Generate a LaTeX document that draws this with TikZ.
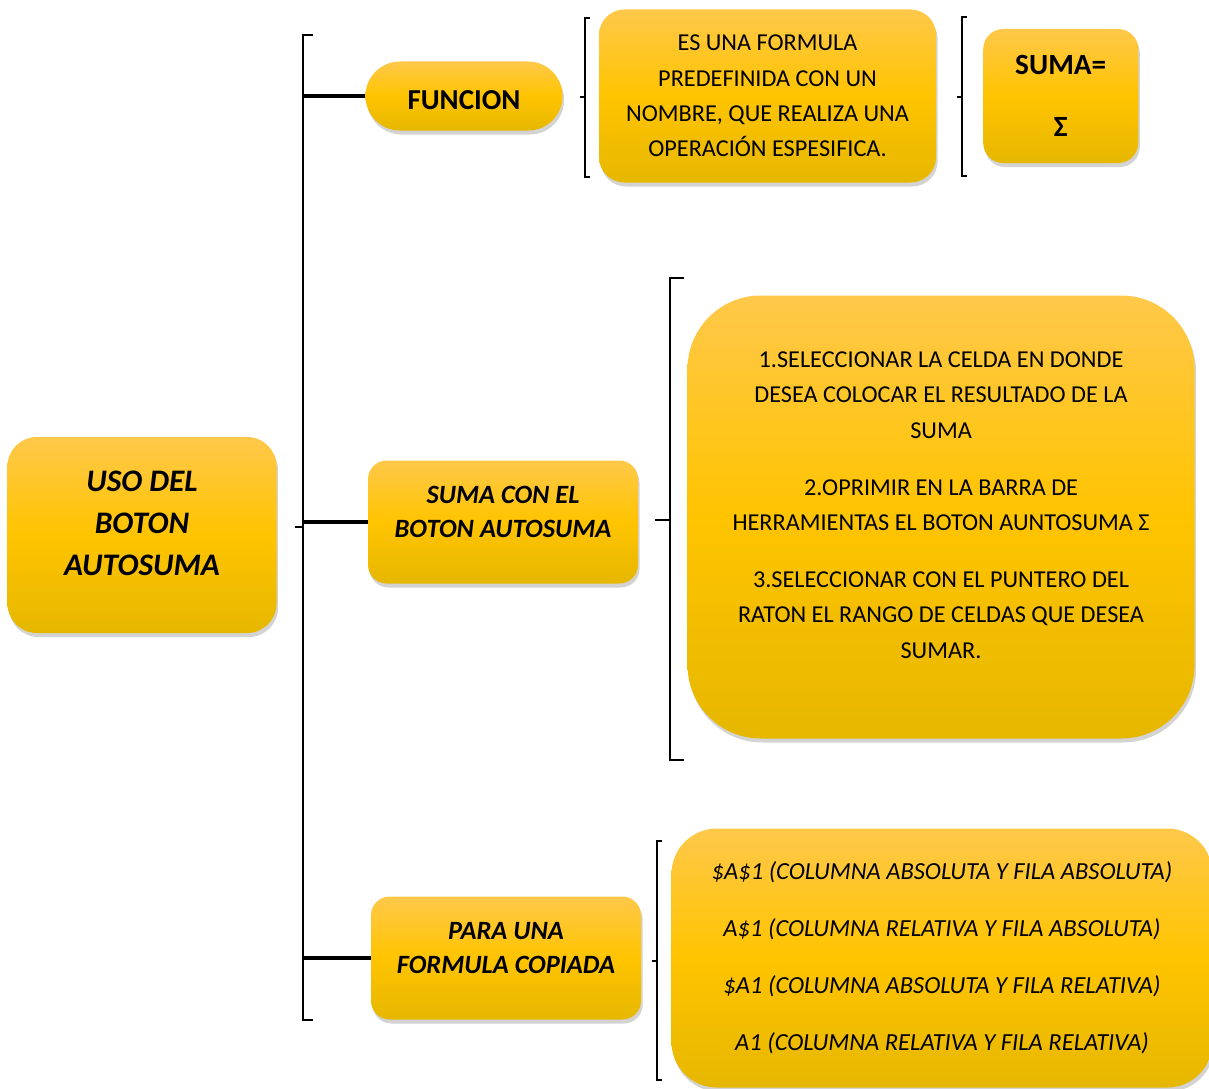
\documentclass[tikz,border=0pt]{standalone}
\usepackage{fontspec}
\setmainfont{Carlito}
\usetikzlibrary{positioning}
\usetikzlibrary{shadows}
\definecolor{goldtop}{HTML}{FFC84A}
\definecolor{goldmid}{HTML}{FFC400}
\definecolor{goldbot}{HTML}{E6B700}

\begin{document}
\begin{tikzpicture}[
    x=0.75pt, y=-0.75pt,
    box/.style={
      align=center,
      inner sep=0pt,
      top color=goldtop,
      bottom color=goldbot,
      middle color=goldmid,
      drop shadow={shadow xshift=1.2pt, shadow yshift=-3pt, opacity=0.35},
    },
    topic/.style={
      box,
      text depth=17pt,
      font=\fontsize{23.5}{31.5}\selectfont\bfseries\itshape,
    },
    branch/.style={
      box,
      minimum width=202.5pt,
      minimum height=92.25pt,
      rounded corners=14pt,
      text depth=15pt,
      font=\fontsize{19.8}{26}\selectfont\bfseries\itshape,
    },
    detail/.style={
      box,
      font=\fontsize{18.2}{26.6}\selectfont,
    },
    brace/.style={
      line width=1.5pt,
    },
    link/.style={
      line width=2.6pt,
    },
    ]
    \useasboundingbox (0,0) rectangle (1209,1088);

    \node[topic, minimum width=201.75pt, minimum height=147pt,
      rounded corners=22pt] (root) at (142,535) {
      USO DEL \\ BOTON \\ AUTOSUMA
    };

    \node[box, minimum width=147.75pt, minimum height=51.75pt,
      rounded corners=25.8pt, text height=20pt,
      font=\fontsize{21.7}{26}\selectfont\bfseries] (funcion) at (464,96) {FUNCION};
    \node[branch] (sumacon) at (503,522) {
      SUMA CON EL \\ BOTON AUTOSUMA
    };
    \node[branch] (copiada) at (506,958) {
      PARA UNA \\ FORMULA COPIADA
    };

    \node[detail, minimum width=252.75pt, minimum height=129.75pt,
      rounded corners=19pt, right=27pt of funcion] (defn) {
      ES UNA FORMULA \\
      PREDEFINIDA CON UN \\
      NOMBRE, QUE REALIZA UNA \\
      OPERACIÓN ESPESIFICA.
    };
    \node[box, minimum width=116.25pt, minimum height=100.5pt,
      rounded corners=15pt, right=35pt of defn,
      font=\fontsize{22}{46.5}\selectfont\bfseries] (sigma) {
      SUMA= \\ Σ
    };
    \node[detail, minimum width=380.25pt, minimum height=332.25pt,
      rounded corners=55pt, right=36.75pt of sumacon, yshift=3.75pt,
      text depth=18pt] (pasos) {
      1.SELECCIONAR LA CELDA EN DONDE \\
      DESEA COLOCAR EL RESULTADO DE LA \\
      SUMA \\[16pt]
      2.OPRIMIR EN LA BARRA DE \\
      HERRAMIENTAS EL BOTON AUNTOSUMA Σ \\[16pt]
      3.SELECCIONAR CON EL PUNTERO DEL \\
      RATON EL RANGO DE CELDAS QUE DESEA \\
      SUMAR.
    };
    \node[detail, minimum width=405.75pt, minimum height=194.25pt,
      rounded corners=34pt, right=22.5pt of copiada,
      font=\fontsize{18.4}{42.75}\selectfont\itshape] (refs) {
      \$A\$1 (COLUMNA ABSOLUTA Y FILA ABSOLUTA) \\
      A\$1 (COLUMNA RELATIVA Y FILA ABSOLUTA) \\
      \$A1 (COLUMNA ABSOLUTA Y FILA RELATIVA) \\
      A1 (COLUMNA RELATIVA Y FILA RELATIVA)
    };

    % brackets
    \coordinate (spine) at (303,527);
    \draw[brace] (313,35) -- (303,35) -- (303,1020) -- (313,1020);
    \draw[brace] (spine) -- ++(-8,0);
    \draw[brace] (590,18) -- (585,18) -- (585,177) -- (590,177);
    \draw[brace] (585,97) -- (580,97);
    \draw[brace] (967,17) -- (962,17) -- (962,176) -- (967,176);
    \draw[brace] (962,97) -- (957,97);
    \draw[brace, line width=2.2pt] (684,278) -- (670,278) -- (670,760) -- (684,760);
    \draw[brace, line width=2.2pt] (670,520) -- (655,520);
    \draw[brace] (662,841) -- (657,841) -- (657,1080) -- (662,1080);
    \draw[brace] (657,961) -- (652,961);

    \draw[link] (spine |- funcion.west) -- (funcion.west);
    \draw[link] (spine |- sumacon.west) -- (sumacon.west);
    \draw[link] (spine |- copiada.west) -- (copiada.west);
  \end{tikzpicture}
\end{document}
